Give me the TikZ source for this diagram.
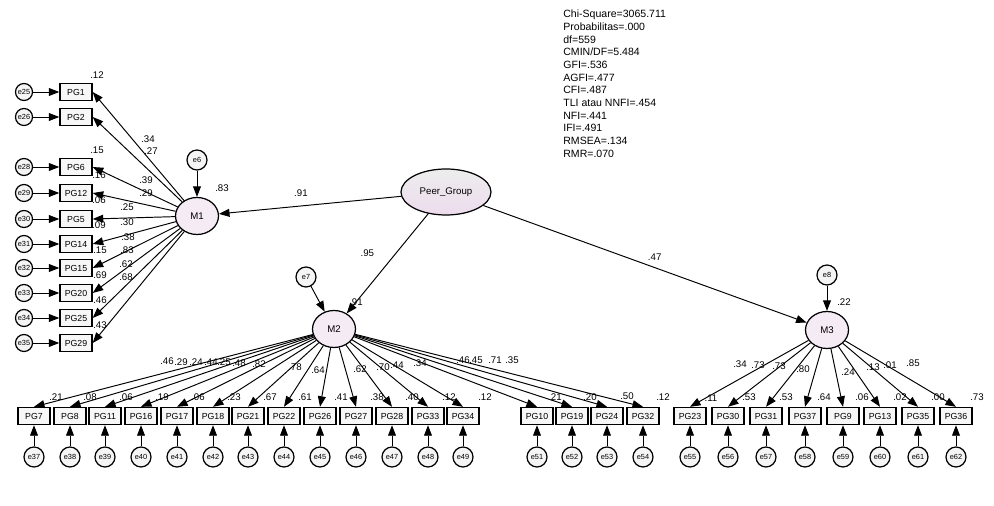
\documentclass[tikz,border=0pt]{standalone}
\usepackage{fontspec}
\setmainfont{Liberation Sans}
\usetikzlibrary{arrows.meta, positioning, shapes.geometric}

\begin{document}
\begin{tikzpicture}[x=0.02cm, y=-0.02cm,
  ind/.style={draw, line width=0.8pt, fill=gray!6, minimum width=0.64cm, minimum height=0.34cm, inner sep=0pt, font=\fontsize{5}{6}\selectfont},
  err/.style={draw, circle, line width=0.7pt, fill=gray!8, minimum size=0.4cm, inner sep=0pt, font=\fontsize{4.2}{5}\selectfont},
  lat/.style={draw, ellipse, line width=0.7pt, fill=violet!8, minimum width=0.86cm, minimum height=0.74cm, inner sep=0pt, font=\fontsize{5.5}{6}\selectfont},
  load/.style={-{Triangle[length=6pt,width=4.5pt]}, line width=0.55pt},
  est/.style={font=\fontsize{5.5}{6}\selectfont, inner sep=0pt}]
\useasboundingbox (0,0) rectangle (994,506);

% Fit statistics
\node[anchor=north west, align=left, inner sep=0pt, font=\fontsize{6}{7.2}\selectfont] (fit) at (563,10)
  {Chi-Square=3065.711\\ Probabilitas=.000\\ df=559\\ CMIN/DF=5.484\\ GFI=.536\\ AGFI=.477\\ CFI=.487\\ TLI atau NNFI=.454\\ NFI=.441\\ IFI=.491\\ RMSEA=.134\\ RMR=.070};

% Latent variables
\node[lat, minimum width=1.8cm, minimum height=0.92cm, shade, top color=gray!14, bottom color=violet!14] (peer) at (446,192) {Peer\_Group};
\node[lat] (M1) at (197,216) {M1};
\node[lat] (M2) at (334,329) {M2};
\node[lat] (M3) at (827,330) {M3};

% Disturbances
\node[err] (e6) at (197,160) {e6};
\node[err] (e7) at (306,277) {e7};
\node[err] (e8) at (827,275) {e8};
\draw[load] (e6) -- (M1);
\draw[load] (e7) -- (M2);
\draw[load] (e8) -- (M3);

% Second order paths
\draw[load] (peer) -- (M1) node[est, pos=0.55, above=5pt] (l91) {.91};
\draw[load] (peer) -- (M2) node[est, pos=0.4, left=12pt] (l95) {.95};
\draw[load] (peer) -- (M3) node[est, pos=0.53, above=4pt] (l47) {.47};
\node[est] (r83) at (222,188) {.83};
\node[est] (r91) at (356,302) {.91};
\node[est] (r22) at (844,302) {.22};

% Indicators of M1
\foreach \n/\y/\e in {PG1/92/e25, PG2/117/e26, PG6/167/e28, PG12/193/e29, PG5/219/e30, PG14/244/e31, PG15/268/e32, PG20/293/e33, PG25/318/e34, PG29/343/e35} {
  \node[ind] (\n) at (76,\y) {\n};
  \node[err, minimum size=0.34cm] (\e) at (24,\y) {\e};
  \draw[load] (\e) -- (\n);
  \draw[load] (M1) -- (\n.east);
}

% Indicators of M2
\foreach \n/\x/\e in {PG7/34/e37, PG8/70/e38, PG11/105/e39, PG16/141/e40, PG17/177/e41, PG18/213/e42, PG21/248/e43, PG22/284/e44, PG26/320/e45, PG27/356/e46, PG28/392/e47, PG33/428/e48, PG34/463/e49, PG10/537/e51, PG19/572/e52, PG24/607/e53, PG32/643/e54} {
  \node[ind] (\n) at (\x,416) {\n};
  \node[err] (\e) at (\x,457) {\e};
  \draw[load] (\e) -- (\n);
  \draw[load] (M2) -- (\n.north);
}

% Indicators of M3
\foreach \n/\x/\e in {PG23/690/e55, PG30/728/e56, PG31/766/e57, PG37/805/e58, PG9/843/e59, PG13/880/e60, PG35/918/e61, PG36/956/e62} {
  \node[ind] (\n) at (\x,416) {\n};
  \node[err] (\e) at (\x,457) {\e};
  \draw[load] (\e) -- (\n);
  \draw[load] (M3) -- (\n.north);
}

% Estimates M1
\foreach \t/\x/\y [count=\i] in {.12/97/75, .15/97/150, .16/99/175, .06/99/200, .09/99/225, .15/100/250, .69/100/275, .46/100/300, .43/100/325,
  .34/148/139, .27/151/151, .39/146/180, .29/146/193, .25/127/207, .30/127/222, .38/128/237, .83/127/250, .62/126/264, .68/126/277}
  \node[est] (a\i) at (\x,\y) {\t};

% Estimates M2
\foreach \t/\x/\y [count=\i] in {.21/56/397, .08/90/397, .06/126/397, .19/162/397, .06/198/397, .23/234/397, .67/270/397, .61/305/397, .41/341/397, .38/377/397, .40/412/397, .12/449/397, .12/485/397, .21/555/397, .20/590/397, .50/627/396, .12/663/397,
  .46/167/361, .29/181/362, .24/196/362, .44/211/362, .25/224/362, .48/239/363, .82/259/364, .78/295/367, .64/318/370, .62/360/369, .70/383/367, .44/397/365, .34/420/363, .46/463/360, .45/476/360, .71/495/360, .35/512/360}
  \node[est] (b\i) at (\x,\y) {\t};

% Estimates M3
\foreach \t/\x/\y [count=\i] in {.11/711/398, .53/749/397, .53/786/397, .64/824/397, .06/862/397, .02/900/397, .00/938/397, .73/977/397,
  .34/740/364, .73/758/365, .73/779/366, .80/803/369, .24/848/372, .13/873/367, .01/890/365, .85/913/363}
  \node[est] (c\i) at (\x,\y) {\t};

\end{tikzpicture}
\end{document}
